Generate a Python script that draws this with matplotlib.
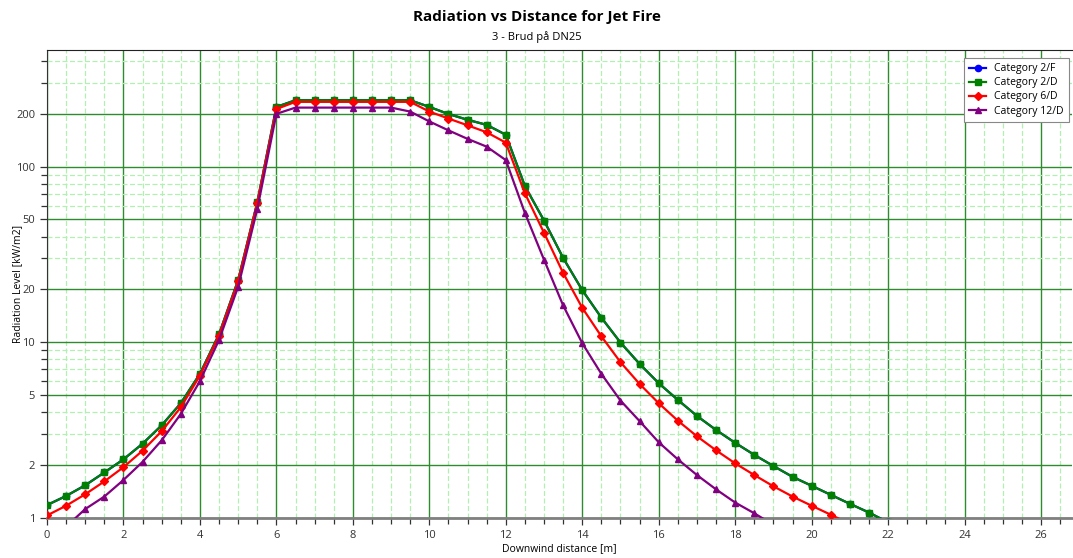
import numpy as np
import matplotlib
matplotlib.use('Agg')
import matplotlib.pyplot as plt
from matplotlib.ticker import FixedLocator, NullFormatter, FuncFormatter

plt.rcParams['font.family'] = ['Open Sans', 'DejaVu Sans']

# distance [m], every 0.5 m
dist = np.arange(0, 22.5, 0.5)

cat_2d = [1.18, 1.33, 1.53, 1.81, 2.15, 2.64, 3.36, 4.49, 6.6, 11.1,
          22.6, 62.5, 219, 239, 239, 239, 239, 239, 239, 239,
          219, 199.5, 185, 173, 152, 77.5, 49.3, 30.2, 19.8, 13.8,
          9.95, 7.52, 5.84, 4.69, 3.80, 3.16, 2.67, 2.28, 1.97, 1.71,
          1.52, 1.35, 1.20, 1.07, 0.94]
cat_2f = list(cat_2d)
cat_6d = [1.03, 1.17, 1.36, 1.61, 1.94, 2.41, 3.11, 4.26, 6.45, 10.9,
          22.2, 62, 213, 234, 234, 234, 234, 234, 234, 234,
          206, 188, 172, 157, 137, 70.5, 42, 24.8, 15.7, 10.8,
          7.69, 5.78, 4.49, 3.57, 2.91, 2.42, 2.04, 1.75, 1.51, 1.32,
          1.17, 1.04, 0.92, 0.82, 0.74]
cat_12d = [0.80, 0.89, 1.12, 1.32, 1.64, 2.08, 2.76, 3.9, 6.0, 10.3,
           20.7, 57.3, 200, 217, 217, 217, 217, 217, 217, 206,
           181, 161, 144, 130, 109, 54.5, 29.5, 16.2, 9.87, 6.6,
           4.65, 3.55, 2.69, 2.15, 1.75, 1.45, 1.22, 1.06, 0.91, 0.80,
           0.70, 0.62, 0.55, 0.49, 0.44]

series = [
    ('Category 2/F', cat_2f, '#0000ff', 'o', 4.5),
    ('Category 2/D', cat_2d, '#008000', 's', 4.5),
    ('Category 6/D', cat_6d, '#ff0000', 'D', 4.0),
    ('Category 12/D', cat_12d, '#800080', '^', 4.5),
]

y_major = [1, 2, 5, 10, 20, 50, 100, 200]
y_minor = [3, 4, 6, 7, 8, 9, 30, 40, 60, 70, 80, 90, 300, 400]

fig = plt.figure(figsize=(10.73, 5.58), dpi=100)
ax = fig.add_axes([47 / 1073, 1 - 517.7 / 558, 1025 / 1073, 467.7 / 558])

for label, vals, col, mk, ms in series:
    ax.plot(dist, vals, color=col, marker=mk, markersize=ms, linewidth=1.6,
            label=label, zorder=3)

ax.set_yscale('log')
ax.set_xlim(0, 26.81)
ax.set_ylim(1, 462)

ax.yaxis.set_major_locator(FixedLocator(y_major))
ax.yaxis.set_minor_locator(FixedLocator(y_minor))
ax.yaxis.set_major_formatter(FuncFormatter(lambda v, p: f'{v:g}'))
ax.yaxis.set_minor_formatter(NullFormatter())
ax.xaxis.set_major_locator(FixedLocator(np.arange(0, 27, 2)))
ax.xaxis.set_minor_locator(FixedLocator([v for v in np.arange(0, 27, 0.5) if v % 2 != 0]))

ax.grid(which='major', color='#2e8b2e', linewidth=1.0, linestyle='-', zorder=1)
ax.grid(which='minor', color='#b0f0b0', linewidth=0.9, linestyle=(0, (4, 2)), zorder=1)

ax.tick_params(which='both', direction='out', labelsize=8, colors='#333333')
ax.tick_params(which='major', length=5, width=0.9)
ax.tick_params(which='minor', length=4, width=0.9)

ax.spines['right'].set_visible(False)
ax.spines['top'].set_color('#222222')
ax.spines['left'].set_color('#333333')
ax.spines['bottom'].set_color('#808080')
ax.spines['bottom'].set_linewidth(2)

ax.set_xlabel('Downwind distance [m]', fontsize=7.5, labelpad=2)
ax.set_ylabel('Radiation Level [kW/m2]', fontsize=7.5)
ax.yaxis.set_label_coords(-0.0234, 0.5)

fig.text(0.5, 1 - 17 / 558, 'Radiation vs Distance for Jet Fire', ha='center', va='center',
         fontsize=11, fontweight='bold')
fig.text(0.5, 1 - 37 / 558, '3 - Brud på DN25', ha='center', va='center', fontsize=8)

leg = ax.legend(loc='upper right', bbox_to_anchor=(0.997, 0.983), borderaxespad=0,
                fontsize=7.5, fancybox=False, framealpha=1, edgecolor='#888888',
                handlelength=1.6, labelspacing=0.3, borderpad=0.5)
leg.get_frame().set_linewidth(0.8)

fig.savefig('out.png', dpi=100)
